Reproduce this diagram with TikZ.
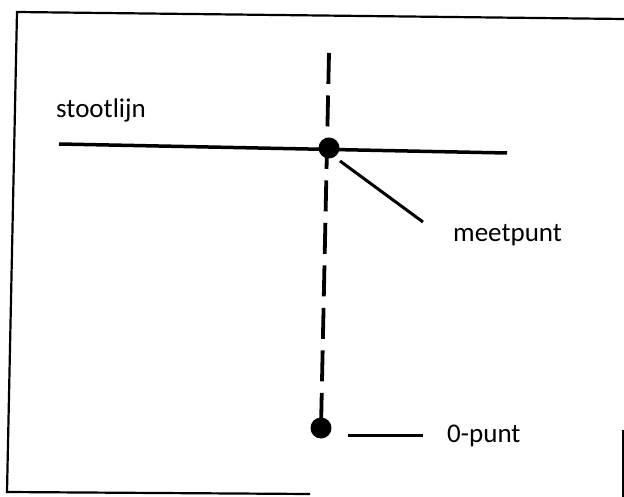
\documentclass[tikz,border=0pt]{standalone}
\usepackage{fontspec}
\setmainfont{Carlito}
\begin{document}
\begin{tikzpicture}[x=1pt,y=-1pt,
  frameline/.style={line width=2.2pt},
  mainline/.style={line width=3.5pt},
  axisline/.style={line width=3.8pt, dash pattern=on 31pt off 11.5pt},
  leader/.style={line width=3pt},
  dot/.style={circle, fill=black, inner sep=0pt, minimum size=21pt},
  lbl/.style={anchor=base west, inner sep=0pt, font=\fontsize{27}{32}\selectfont}]
\useasboundingbox (0,0) rectangle (624,497);

% outer frame (slightly skewed, open on the right)
\coordinate (f1) at (17,12);
\coordinate (f2) at (624,19);
\coordinate (f3) at (7,492);
\coordinate (f4) at (310,494);
\coordinate (f5) at (623,430);
\coordinate (f6) at (623,497);
\draw[frameline] (f2) -- (f1) -- (f3) -- (f4);
\draw[frameline] (f5) -- (f6);

% points
\node[dot] (meet) at (329,148) {};
\node[dot] (zero) at (321,428) {};

% stootlijn
\coordinate (sl) at (59,144);
\coordinate (sr) at (507,153);
\draw[mainline] (sl) -- (sr);

% dashed axis through the measuring point down to the zero point
\coordinate (top) at (329,53);
\draw[axisline] (top) -- (zero.center);

% leaders
\coordinate (m1) at (340,161);
\coordinate (m2) at (423,222);
\draw[leader] (m1) -- (m2);
\coordinate (z1) at (348,435);
\coordinate (z2) at (423,435);
\draw[leader] (z1) -- (z2);

% labels
\node[lbl] (tstoot) at (56,118) {stootlijn};
\node[lbl] (tmeet) at (453,242) {meetpunt};
\node[lbl] (tzero) at (447,442) {0-punt};
\end{tikzpicture}
\end{document}
